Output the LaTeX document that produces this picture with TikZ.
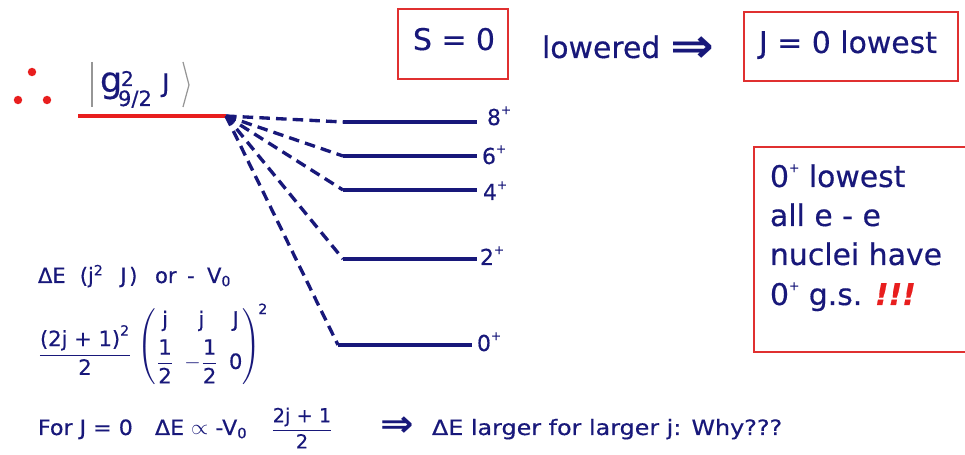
\documentclass[tikz,border=0pt]{standalone}
\usepackage{amsmath}
\usepackage{graphicx}
\usepackage{fontspec}
\setmainfont{DejaVu Sans}[FakeBold=0.4]
\newfontfamily\arrowfont{DejaVu Sans Bold}
\definecolor{navy}{RGB}{24,24,122}
\definecolor{redl}{RGB}{232,30,30}
\definecolor{redb}{RGB}{224,48,48}
\definecolor{ketgray}{RGB}{150,150,150}
\newcommand{\pl}{\raisebox{0.5em}{\fontsize{7}{7}\selectfont +}}
\newcommand{\bigarrow}{\scalebox{1.75}[1.6]{\arrowfont ⇒}}
\begin{document}
\begin{tikzpicture}[x=0.02cm,y=-0.02cm,
  txt/.style={text=navy, inner sep=0pt, outer sep=0pt},
  big/.style={txt, font=\fontsize{17}{20}\selectfont, anchor=base west},
  lab/.style={txt, font=\fontsize{12.5}{14}\selectfont, anchor=base west},
  mid/.style={txt, font=\fontsize{12}{14}\selectfont},
  lvl/.style={draw=navy, line width=2pt},
  trans/.style={draw=navy, line width=1.9pt, dash pattern=on 6pt off 3.5pt},
  redbox/.style={draw=redb, line width=1.3pt},
]
\useasboundingbox (0,0) rectangle (965,455);
\fill[white] (0,0) rectangle (965,455);

% dots
\fill[redl] (32,72) circle (2.4pt) (18,100) circle (2.4pt) (47,100) circle (2.4pt);

% ket
\draw[ketgray, line width=0.7pt] (92,62) -- (92,107);
\draw[ketgray, line width=0.7pt] (183,62) -- (189,85) -- (183,107);
\node[txt, font=\fontsize{20}{22}\selectfont, anchor=base west] (gg) at (100,92) {g};
\node[txt, font=\fontsize{11.5}{12}\selectfont, anchor=base west] (gsup) at (121,86) {2};
\node[txt, font=\fontsize{12}{12}\selectfont, anchor=base west] (gsub) at (118,106) {9/2};
\node[txt, font=\fontsize{14.5}{16}\selectfont, anchor=base west] (gJ) at (162,92) {J};

% red level
\coordinate (r0) at (78,116);
\coordinate (g) at (226,116);
\draw[redl, line width=2.4pt] (r0) -- (g);

% levels
\coordinate (a8) at (343,122); \coordinate (b8) at (477,122);
\coordinate (a6) at (343,156); \coordinate (b6) at (477,156);
\coordinate (a4) at (343,190); \coordinate (b4) at (477,190);
\coordinate (a2) at (343,259); \coordinate (b2) at (477,259);
\coordinate (a0) at (338,345); \coordinate (b0) at (472,345);
\draw[lvl] (a8) -- (b8);
\draw[lvl] (a6) -- (b6);
\draw[lvl] (a4) -- (b4);
\draw[lvl] (a2) -- (b2);
\draw[lvl] (a0) -- (b0);
\draw[trans] (g) -- (a8);
\draw[trans] (g) -- (a6);
\draw[trans] (g) -- (a4);
\draw[trans] (g) -- (a2);
\draw[trans] (g) -- (a0);
\node[lab] (t8) at (487,125) {8\pl};
\node[lab] (t6) at (482,164) {6\pl};
\node[lab] (t4) at (483,200) {4\pl};
\node[lab] (t2) at (480,265) {2\pl};
\node[lab] (t0) at (477,351) {0\pl};

% top row
\draw[redbox] (398,9) rectangle (508,79);
\node[big] (s0) at (413,50) {S = 0};
\node[big] (low) at (542,58) {lowered};
\node[txt, font=\fontsize{17}{20}\selectfont] (arr) at (692,50) {\bigarrow};
\draw[redbox] (744,12) rectangle (958,81);
\node[big] (j0) at (759,53) {J = 0 lowest};

% right box
\draw[redbox] (754,147) rectangle (972,352);
\node[big] (q1) at (770,187) {0\pl\ lowest};
\node[big] (q2) at (770,226) {all e - e};
\node[big] (q3) at (770,265) {nuclei have};
\node[big] (q4) at (770,305) {0\pl\ g.s. \textcolor{redl}{\bfseries\itshape !!!}};

% left formula
\node[mid, anchor=base west] (de) at (38,283) {ΔE\hspace{8pt}(j\textsuperscript{2}\hspace{9.5pt}J\hspace{1.5pt})\hspace{10pt}or\hspace{6pt}-\hspace{7pt}V\textsubscript{0}};
\node[mid] (fr) at (85,350) {$\dfrac{\text{(2j + 1)}^{\text{2}}}{\text{2}}$};
\node[mid] (mx) at (203,344) {$\setlength{\arraycolsep}{3pt}\begin{pmatrix}\text{j} & \text{j} & \text{J}\\[3pt] \dfrac{\text{1}}{\text{2}} & -\dfrac{\text{1}}{\text{2}} & \text{0}\end{pmatrix}^{\!\text{2}}$};

% bottom line
\node[mid, anchor=base west] (fj) at (38,435) {\scalebox{1.05}[1]{For J = 0}};
\node[mid, anchor=base west] (dv) at (155,435) {\scalebox{1.05}[1]{ΔE $\propto$ -V\textsubscript{0}}};
\node[txt, font=\fontsize{11}{13}\selectfont] (fr2) at (302,428) {$\dfrac{\text{2j + 1}}{\text{2}}$};
\node[txt, font=\fontsize{13}{16}\selectfont] (arr2) at (397,427) {\bigarrow};
\node[mid, anchor=base west] (lg) at (432,435) {\scalebox{1.13}[1]{ΔE larger for larger j: Why???}};
\end{tikzpicture}
\end{document}
